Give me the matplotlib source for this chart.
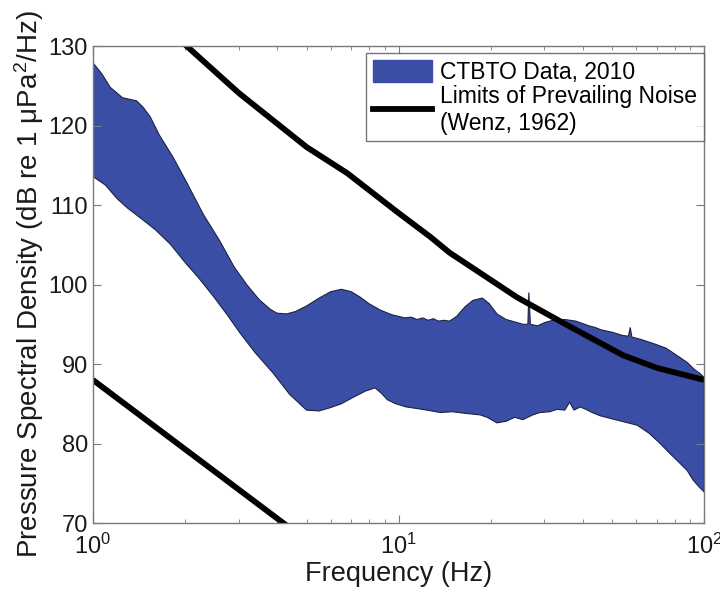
import numpy as np
import matplotlib
matplotlib.use("Agg")
import matplotlib.pyplot as plt
from matplotlib.patches import Patch
from matplotlib.lines import Line2D

plt.rcParams['font.family'] = ['Liberation Sans', 'DejaVu Sans']
plt.rcParams['mathtext.fontset'] = 'custom'
plt.rcParams['mathtext.rm'] = 'Liberation Sans'
plt.rcParams['mathtext.it'] = 'Liberation Sans:italic'

# Upper envelope of the CTBTO spectra
upper_freq = [1.00, 1.07, 1.14, 1.25, 1.32, 1.39, 1.46, 1.54, 1.65, 1.83,
              2.03, 2.30, 2.60, 2.90, 3.20, 3.50, 3.80, 4.00, 4.30, 4.60,
              5.00, 5.50, 6.00, 6.50, 7.00, 7.50, 8.00, 8.70, 9.50, 10.5,
              11.0, 11.5, 12.0, 12.5, 13.0, 13.5, 14.1, 14.7, 15.5, 16.5,
              17.5, 18.8, 19.8, 21.0, 22.5, 24.0, 25.5, 26.5, 26.7, 27.0,
              28.5, 30.0, 32.0, 35.0, 38.0, 40.0, 42.0, 44.0, 46.0, 50.0,
              54.0, 56.5, 57.3, 58.0, 62.0, 68.0, 75.0, 82.0, 88.0, 93.0,
              97.0, 100.0]
upper_db = [127.9, 126.5, 124.8, 123.5, 123.3, 123.1, 122.3, 121.1, 118.8, 116.0,
            112.8, 108.8, 105.5, 102.2, 99.9, 98.1, 96.9, 96.4, 96.3, 96.6,
            97.3, 98.3, 99.1, 99.4, 99.1, 98.4, 97.6, 96.8, 96.2, 95.8,
            95.9, 95.6, 95.8, 95.5, 95.7, 95.4, 95.5, 95.4, 96.0, 97.2,
            98.0, 98.3, 97.6, 96.3, 95.6, 95.3, 95.0, 95.0, 99.0, 95.0,
            94.8, 95.2, 95.5, 95.6, 95.4, 95.1, 94.8, 94.6, 94.3, 94.0,
            93.6, 93.5, 94.6, 93.4, 93.1, 92.6, 92.0, 91.0, 90.2, 89.3,
            88.8, 88.3]

# Lower envelope of the CTBTO spectra
lower_freq = [1.00, 1.10, 1.20, 1.30, 1.45, 1.60, 1.80, 2.00, 2.20, 2.47,
              2.75, 3.03, 3.40, 3.88, 4.40, 5.00, 5.50, 5.97, 6.50, 7.10,
              7.80, 8.38, 8.80, 9.20, 9.80, 10.6, 11.5, 12.4, 13.7, 15.0,
              16.5, 18.5, 19.5, 21.0, 22.5, 24.0, 25.5, 27.5, 29.0, 31.3,
              33.0, 35.0, 36.3, 37.5, 39.3, 41.0, 43.0, 45.6, 50.0, 55.0,
              60.4, 66.0, 71.8, 77.0, 83.4, 88.0, 92.0, 96.0, 100.0]
lower_db = [113.6, 112.5, 110.8, 109.6, 108.2, 106.9, 105.0, 102.8, 101.0, 98.6,
            96.2, 93.9, 91.4, 88.9, 86.2, 84.2, 84.1, 84.5, 85.0, 85.8,
            86.6, 87.0, 86.3, 85.5, 85.0, 84.6, 84.4, 84.2, 83.9, 84.0,
            83.8, 83.6, 83.3, 82.6, 82.8, 83.3, 83.0, 83.6, 83.9, 84.0,
            84.3, 84.2, 85.2, 84.2, 84.6, 84.3, 83.9, 83.5, 83.1, 82.7,
            82.3, 81.3, 80.0, 78.8, 77.5, 76.6, 75.4, 74.6, 73.9]

# Wenz (1962) limits of prevailing noise
wenz_hi_freq = [1.9, 2.0, 3.0, 5.0, 6.8, 10.0, 12.7, 14.7, 24.4, 35.6, 54.3, 70.2, 100.0]
wenz_hi_db = [131.0, 130.2, 124.1, 117.3, 114.0, 109.0, 106.0, 104.0, 98.4, 94.9, 91.1, 89.5, 88.0]
wenz_lo_freq = [1.0, 2.0, 5.0]
wenz_lo_db = [88.0, 79.3, 67.8]

band_color = '#3A4EA6'
text_color = '#1a1a1a'

fig = plt.figure(figsize=(7.2, 5.94), dpi=100)
ax = fig.add_axes([0.129, 0.1195, 0.849, 0.803])

poly_x = np.concatenate([upper_freq, lower_freq[::-1]])
poly_y = np.concatenate([upper_db, lower_db[::-1]])
ax.fill(poly_x, poly_y, facecolor=band_color, edgecolor='#1c2340', linewidth=0.8)

ax.plot(wenz_hi_freq, wenz_hi_db, color='black', linewidth=4.2, solid_capstyle='butt')
ax.plot(wenz_lo_freq, wenz_lo_db, color='black', linewidth=4.2, solid_capstyle='butt')

ax.set_xscale('log')
ax.set_xlim(1, 100)
ax.set_ylim(70, 130)
ax.set_yticks([70, 80, 90, 100, 110, 120, 130])

for s in ax.spines.values():
    s.set_color('#7a7a7a')
    s.set_linewidth(1.0)
ax.tick_params(which='both', direction='in', top=True, right=True,
               color='#7a7a7a', labelsize=17, labelcolor=text_color)
ax.tick_params(which='major', length=6)
ax.tick_params(which='minor', length=3)
ax.tick_params(axis='x', pad=8)

ax.set_xlabel('Frequency (Hz)', fontsize=19.5, color=text_color, labelpad=1)
ax.set_ylabel('Pressure Spectral Density (dB re 1 μPa$^2$/Hz)', fontsize=20,
              color=text_color, labelpad=2)

handles = [Patch(facecolor=band_color, edgecolor=band_color),
           Line2D([0], [0], color='black', linewidth=4.2)]
labels = ['CTBTO Data, 2010', 'Limits of Prevailing Noise\n(Wenz, 1962)']
leg = ax.legend(handles, labels, loc='upper right', bbox_to_anchor=(1.0, 0.985),
                fontsize=16.5, frameon=True, fancybox=False, borderaxespad=0.0,
                handlelength=2.6, handleheight=1.1, handletextpad=0.35,
                labelspacing=0.05, borderpad=0.3)
leg.get_frame().set_edgecolor('#555555')
leg.get_frame().set_linewidth(1.0)

fig.savefig('out.png', dpi=100)
